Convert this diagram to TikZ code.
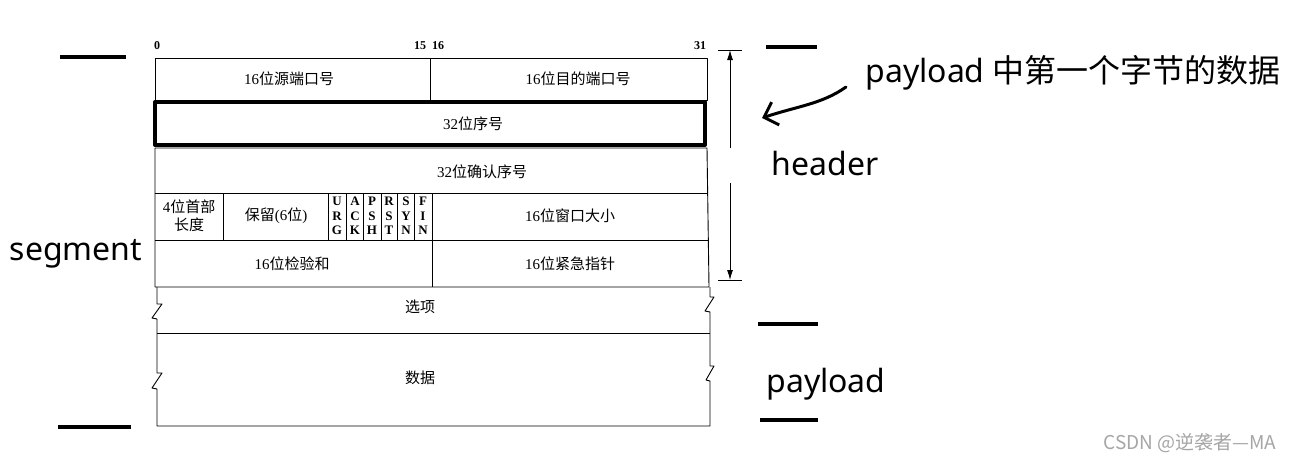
\documentclass[tikz,border=0pt]{standalone}
\usepackage{fontspec}
\setmainfont{Liberation Serif}
\newfontfamily\cjk{Noto Sans CJK SC}
\newfontfamily\notefont{Noto Sans}
\usetikzlibrary{arrows.meta}

\begin{document}
\begin{tikzpicture}[x=1pt,y=-1pt,line join=round,line width=0.9pt,
  cell/.style={font=\fontsize{15}{18}\selectfont,align=center},
  bitnum/.style={font=\bfseries\fontsize{12}{13}\selectfont,inner sep=0pt},
  flag/.style={font=\bfseries\fontsize{13}{14.5}\selectfont,align=center,inner sep=0pt},
  bar/.style={line width=4pt},
  note/.style={font=\notefont\fontsize{32}{34}\selectfont,inner sep=0pt}]
  \useasboundingbox[fill=white] (0,0) rectangle (1295,463);
  % bit numbers
  \foreach \x/\lab in {157/0,420/15,438/16,700/31}
    \node[bitnum] (bit\lab) at (\x,46) {\lab};
  % fixed header
  \draw (155,58) rectangle (707,100);
  \draw (430,58) -- (430,100);
  \draw (155,148) -- (155,287) -- (709,287) -- (707,148) -- cycle;
  \foreach \y in {193,240} \draw (155,\y) -- (708,\y);
  \foreach \x in {223,328,346,363,381,397,414,432} \draw (\x,193) -- (\x,240);
  \draw (432,240) -- (432,287);
  \draw[line width=4pt] (155,102) rectangle (705,145);
  % options and data, broken edges
  \draw (157,287) -- (157,304) -- (162,304) -- (152,318) -- (157,319)
    -- (157,373) -- (162,373) -- (152,388) -- (157,389) -- (157,426)
    -- (710,426) -- (710,381) -- (706,380) -- (714,366) -- (710,366)
    -- (710,312) -- (705,311) -- (714,297) -- (710,297) -- (710,287);
  \draw (157,333) -- (710,333);
  % field texts
  \node[cell] (srcport) at (289,79) {16{\cjk 位源端口号}};
  \node[cell] (dstport) at (578,79) {16{\cjk 位目的端口号}};
  \node[cell] (seqno) at (473,124) {32{\cjk 位序号}};
  \node[cell] (ackno) at (482,172) {32{\cjk 位确认序号}};
  \node[cell] (hdrlen) at (189,216) {4{\cjk 位首部}\\{\cjk 长度}};
  \node[cell] (reserved) at (276,216) {{\cjk 保留}(6{\cjk 位})};
  \foreach \x/\a/\b/\c in {337/U/R/G,355/A/C/K,372/P/S/H,389/R/S/T,406/S/Y/N,423/F/I/N}
    \node[flag] (flag\a\b) at (\x,216) {\a\\\b\\\c};
  \node[cell] (window) at (570,216) {16{\cjk 位窗口大小}};
  \node[cell] (checksum) at (292,264) {16{\cjk 位检验和}};
  \node[cell] (urgent) at (570,264) {16{\cjk 位紧急指针}};
  \node[cell] (options) at (420,307) {\cjk 选项};
  \node[cell] (data) at (420,378) {\cjk 数据};
  % header span
  \draw (718,50) -- (742,50);
  \draw (718,280) -- (742,280);
  \coordinate (spantop) at (730,50);
  \coordinate (spanbot) at (730,280);
  \coordinate (gaptop) at (730,148);
  \coordinate (gapbot) at (730,183);
  \draw[-{Latex[length=10pt,width=6pt]}] (gaptop) -- (spantop);
  \draw[-{Latex[length=10pt,width=6pt]}] (gapbot) -- (spanbot);
  % hand marks
  \draw[bar] (60,57) -- (126,57);
  \draw[bar] (58,427) -- (131,427);
  \draw[bar] (766,47) -- (817,47);
  \draw[bar] (758,324) -- (818,324);
  \draw[bar] (760,420) -- (818,420);
  \node[note] (segment) at (76,254) {segment};
  \node[note] (header) at (825,163) {header};
  \node[note] (payload) at (826,384) {payload};
  \node[note,anchor=west] (firstbyte) at (865,73) {payload {\cjk 中第一个字节的数据}};
  \coordinate (handtail) at (846,87);
  \coordinate (handtip) at (762,118);
  \draw[line width=3pt,line cap=round,-{Straight Barb[length=12pt,width=24pt]}]
    (handtail) .. controls (822,104) and (798,106) .. (handtip);
  \node[font=\cjk\fontsize{19}{21}\selectfont,text=gray!70] (mark) at (1190,443) {CSDN @逆袭者—MA};
\end{tikzpicture}
\end{document}
